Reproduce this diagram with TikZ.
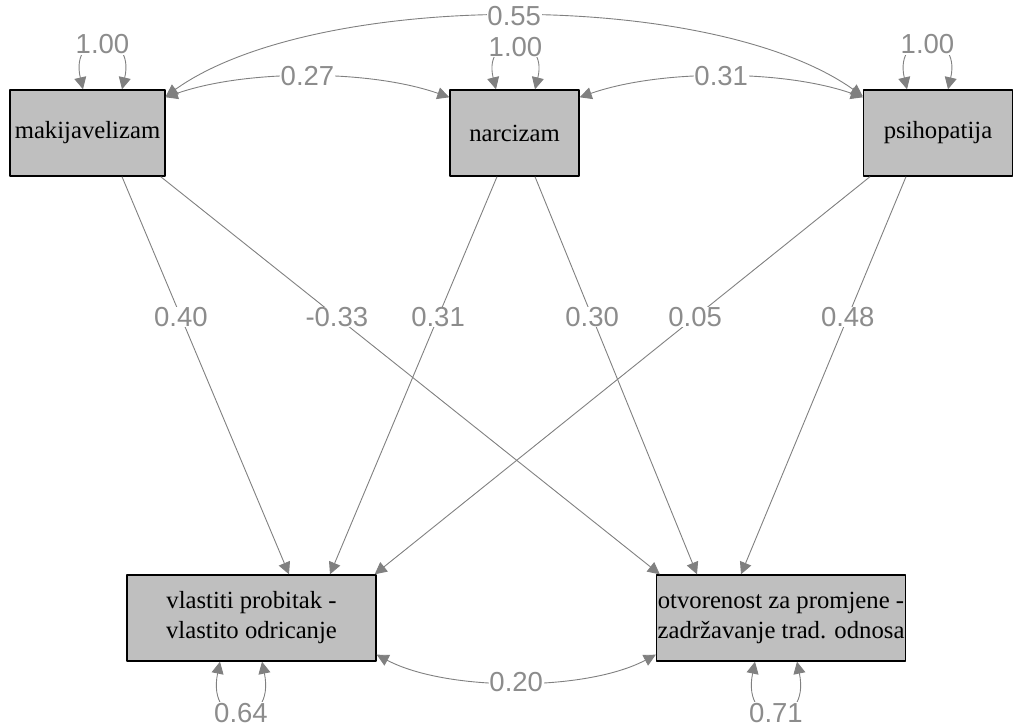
\documentclass[tikz,border=0pt]{standalone}
\usepackage{fontspec}
\setmainfont{Liberation Serif}
\newfontfamily\lblfont{Liberation Sans}
\usetikzlibrary{arrows.meta}
\definecolor{edgegray}{RGB}{128,128,128}
\definecolor{lblgray}{RGB}{140,140,140}
\definecolor{boxgray}{RGB}{191,191,191}
\begin{document}
\begin{tikzpicture}[x=1pt,y=-1pt,>={Triangle[length=12pt,width=12pt]},line join=round,
	varbox/.style={draw=black,line width=1.4pt,fill=boxgray,inner sep=0pt,minimum height=86pt,align=center,font=\fontsize{24.7}{30}\selectfont},
	regpath/.style={draw=edgegray,line width=0.9pt,->},
	cov/.style={draw=edgegray,line width=0.9pt,<->},
	lbl/.style={fill=white,inner sep=0.5pt,text=lblgray,font=\lblfont\fontsize{27.5}{30}\selectfont}]
	\useasboundingbox (0,0) rectangle (1013,727);
	% Biến
	\node[varbox,minimum width=155pt] (mak) at (87.5,133) {makijavelizam};
	\node[varbox,minimum width=129pt] (nar) at (514.5,133) {narcizam};
	\node[varbox,minimum width=149pt] (psi) at (938,133) {psihopatija};
	\node[varbox,minimum width=249pt] (vla) at (251.5,618) {vlastiti probitak -\\vlastito odricanje};
	\node[varbox,minimum width=249pt] (otv) at (781,618) {otvorenost za promjene -\\zadržavanje trad. odnosa};
	% Đường hồi quy
	\draw[regpath] ([xshift=34.5pt]mak.south) -- ([xshift=37.5pt]vla.north) node[lbl,pos=0.353]{0.40};
	\draw[regpath] ([xshift=-5pt]mak.south east) -- ([xshift=4pt]otv.north west) node[lbl,pos=0.353]{-0.33};
	\draw[regpath] ([xshift=-17.5pt]nar.south) -- ([xshift=78.5pt]vla.north) node[lbl,pos=0.353]{0.31};
	\draw[regpath] ([xshift=20.5pt]nar.south) -- ([xshift=-84pt]otv.north) node[lbl,pos=0.353]{0.30};
	\draw[regpath] ([xshift=-68pt]psi.south) -- ([xshift=-2pt]vla.north east) node[lbl,pos=0.353]{0.05};
	\draw[regpath] ([xshift=-32pt]psi.south) -- ([xshift=-40pt]otv.north) node[lbl,pos=0.353]{0.48};
	% Hiệp phương sai
	\draw[cov] ([yshift=-7pt]mak.north east) .. controls +(150pt,107pt) and +(-150pt,107pt) .. ([yshift=-7pt]psi.north west) node[lbl,midway]{0.55};
	\draw[cov] ([yshift=-8pt]mak.north east) .. controls +(80pt,28pt) and +(-80pt,28pt) .. ([yshift=-8pt]nar.north west) node[lbl,midway]{0.27};
	\draw[cov] ([yshift=-8pt]nar.north east) .. controls +(80pt,28pt) and +(-80pt,28pt) .. ([yshift=-8pt]psi.north west) node[lbl,midway]{0.31};
	\draw[cov] ([yshift=7pt]vla.south east) .. controls +(70pt,-37pt) and +(-70pt,-37pt) .. ([yshift=7pt]otv.south west) node[lbl,midway]{0.20};
	% Phương sai
	\draw[cov] ([xshift=-4.5pt]mak.north) .. controls +(-14pt,60pt) and +(14pt,60pt) .. ([xshift=34.5pt]mak.north) node[lbl,midway]{1.00};
	\draw[cov] ([xshift=-18.5pt]nar.north) .. controls +(-14pt,57pt) and +(14pt,57pt) .. ([xshift=20.5pt]nar.north) node[lbl,midway]{1.00};
	\draw[cov] ([xshift=-31pt]psi.north) .. controls +(-14pt,60pt) and +(14pt,60pt) .. ([xshift=10pt]psi.north) node[lbl,midway]{1.00};
	\draw[cov] ([xshift=-31.5pt]vla.south) .. controls +(-14pt,-68pt) and +(14pt,-68pt) .. ([xshift=10.5pt]vla.south) node[lbl,midway]{0.64};
	\draw[cov] ([xshift=-26pt]otv.south) .. controls +(-14pt,-68pt) and +(14pt,-68pt) .. ([xshift=16pt]otv.south) node[lbl,midway]{0.71};
\end{tikzpicture}
\end{document}
